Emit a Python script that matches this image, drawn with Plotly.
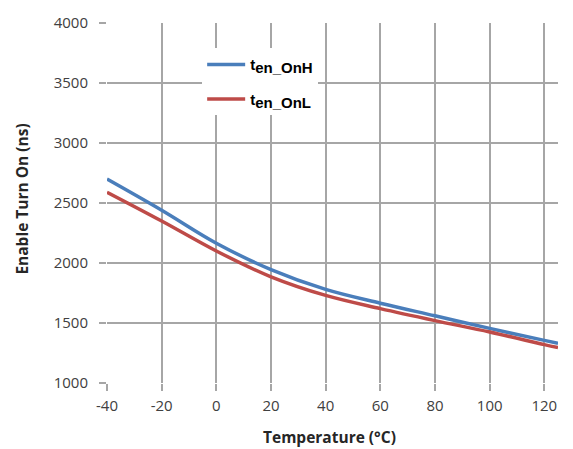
import plotly.graph_objects as go

# Temperature sweep (deg C)
temperature = [-40, -20, 0, 20, 40, 60, 80, 100, 120, 125]

# Enable turn-on time (ns)
t_on_high = [2700, 2440, 2165, 1945, 1780, 1665, 1560, 1455, 1355, 1330]
t_on_low = [2590, 2350, 2100, 1885, 1730, 1620, 1520, 1425, 1320, 1295]

x_ticks = [-40, -20, 0, 20, 40, 60, 80, 100, 120]
x_labels = ["-40", "-20", "0", "20", "40", "60", "80", "100", "120"]
y_ticks = [1000, 1500, 2000, 2500, 3000, 3500, 4000]

grid = "#a6a6a6"
title_font = dict(family="Open Sans, sans-serif", size=15.5, color="#262626")

fig = go.Figure()

fig.add_trace(go.Scatter(
    x=temperature, y=t_on_high,
    mode="lines",
    line=dict(color="#4a7ebb", width=3.5, shape="spline"),
    name="<b>t<sub><span style='font-size:15px'>en_OnH</span></sub></b>",
    legendgroup="h",
))
fig.add_trace(go.Scatter(
    x=temperature, y=t_on_low,
    mode="lines",
    line=dict(color="#be4b48", width=3.5, shape="spline"),
    name="<b>t<sub><span style='font-size:15px'>en_OnL</span></sub></b>",
    legendgroup="l",
))

# axis titles as annotations so they sit where the reference has them
fig.add_annotation(
    text="<b>Temperature (°C)</b>", xref="paper", yref="paper",
    x=0.494, y=-0.15, showarrow=False, font=title_font,
    xanchor="center", yanchor="middle",
)
fig.add_annotation(
    text="<b>Enable Turn On (ns)</b>", xref="paper", yref="paper",
    x=-0.188, y=0.51, showarrow=False, textangle=-90, font=title_font,
    xanchor="center", yanchor="middle",
)

# the page body adds an 8px margin, so the figure is 8px smaller each way
fig.update_layout(
    width=565, height=441,
    margin=dict(l=99, r=15, t=15, b=66),
    paper_bgcolor="white",
    plot_bgcolor="white",
    font=dict(family="Open Sans, sans-serif", color="#404040", size=15),
    showlegend=True,
    xaxis=dict(
        range=[-40, 125],
        tickvals=x_ticks, ticktext=x_labels,
        showgrid=True, gridcolor=grid, gridwidth=1.5,
        zeroline=False, automargin=False,
        ticks="outside", ticklen=7, tickcolor=grid, tickwidth=1.5,
        ticklabelstandoff=2,
    ),
    yaxis=dict(
        range=[1000, 4000],
        tickvals=y_ticks,
        showgrid=True, gridcolor=grid, gridwidth=1.5,
        zeroline=False, automargin=False,
        ticks="outside", ticklen=7, tickcolor=grid, tickwidth=1.5,
        ticklabelstandoff=8,
    ),
    legend=dict(
        x=0.211, y=0.93, xanchor="left", yanchor="top",
        bgcolor="white",
        font=dict(size=15, color="black", family="Liberation Sans, Arial, sans-serif"),
        tracegroupgap=12,
        itemwidth=38,
    ),
)

fig.write_html("out.html")
